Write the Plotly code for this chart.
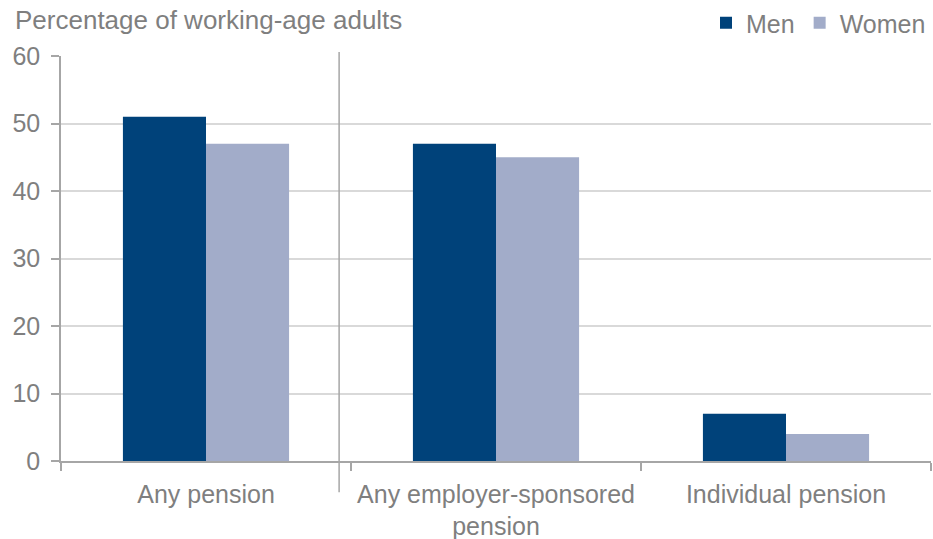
import plotly.graph_objects as go

categories = ["Any pension", "Any employer-sponsored<br>pension", "Individual pension"]
men = [51, 47, 7]
women = [47, 45, 4]
y_ticks = [0, 10, 20, 30, 40, 50, 60]

TXT = "#7f7f7f"
AX = "#a6a6a6"
FONT = "Liberation Sans, Arial, sans-serif"
FS = 25

fig = go.Figure()
fig.add_trace(go.Bar(name="Men", x=categories, y=men, marker=dict(color="#00427A", line=dict(width=0))))
fig.add_trace(go.Bar(name="Women", x=categories, y=women, marker=dict(color="#A2ACC9", line=dict(width=0))))

fig.update_layout(
    width=933, height=539,
    margin=dict(l=61, r=2, t=56, b=78, autoexpand=False),
    barmode="group", bargap=0.427, bargroupgap=0,
    plot_bgcolor="white", paper_bgcolor="white",
    font=dict(family=FONT, size=FS, color=TXT),
    showlegend=True,
    legend=dict(orientation="h", x=1.0, xanchor="right", y=1.0, yref="container", yanchor="top",
                font=dict(size=FS, color=TXT), traceorder="normal", itemwidth=30,
                bgcolor="rgba(0,0,0,0)"),
    annotations=[dict(text="Percentage of working-age adults", xref="paper", yref="paper",
                      x=0, y=1.0, yshift=36, xanchor="left", yanchor="middle", xshift=-48,
                      showarrow=False, font=dict(size=26, color=TXT))],
)
fig.update_xaxes(
    type="category", range=[-0.5, 2.5], showline=True, linecolor=AX, linewidth=1.5,
    ticks="outside", tickson="boundaries", ticklen=8, tickcolor=AX, tickwidth=1.5,
    showgrid=False, tickfont=dict(size=FS, color=TXT), ticklabelstandoff=10,
)
fig.update_yaxes(
    range=[0, 60], tickvals=y_ticks, showline=True, linecolor=AX, linewidth=1.5,
    ticks="outside", ticklen=8, tickcolor=AX, tickwidth=1.5,
    showgrid=True, gridcolor="#d9d9d9", gridwidth=1.5, zeroline=False,
    tickfont=dict(size=FS, color=TXT), ticklabelstandoff=6,
)
fig.add_shape(type="line", xref="x", yref="paper", x0=0.459, x1=0.459, y0=-0.077, y1=1.01,
              line=dict(color=AX, width=1.5), layer="above")

fig.write_html("out.html", config={"displayModeBar": False},
               post_script="document.body.style.margin='0';document.body.style.padding='0';")
